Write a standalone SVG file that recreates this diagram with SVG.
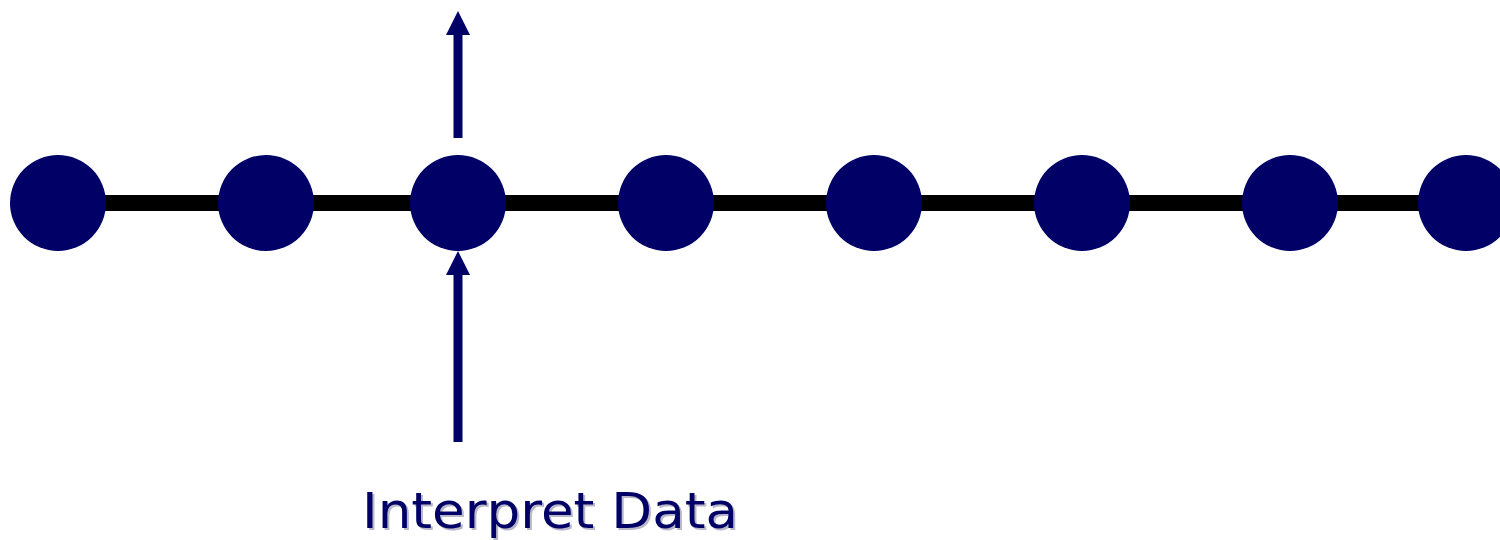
<svg xmlns="http://www.w3.org/2000/svg" width="1500" height="540" viewBox="0 0 1500 540">
<style>
.node{fill:#000066}
.shaft{stroke:#000066;stroke-width:9;fill:none}
.head{fill:#000066}
.lbl{font-family:"DejaVu Sans",Verdana,sans-serif;font-size:50px}
</style>
<rect width="1500" height="540" fill="#ffffff"/>
<g id="connectors">
<line x1="58" y1="203" x2="1466" y2="203" stroke="#000000" stroke-width="16"/>
<line class="shaft" x1="458" y1="442" x2="458" y2="272"/>
<path class="head" d="M458,251 L470,275 L446,275 Z"/>
<line class="shaft" x1="458" y1="138" x2="458" y2="31"/>
<path class="head" d="M458,11 L470,35 L446,35 Z"/>
</g>
<g id="n1"><circle class="node" cx="58" cy="203" r="48"/></g>
<g id="n2"><circle class="node" cx="266" cy="203" r="48"/></g>
<g id="n3"><circle class="node" cx="458" cy="203" r="48"/></g>
<g id="n4"><circle class="node" cx="666" cy="203" r="48"/></g>
<g id="n5"><circle class="node" cx="874" cy="203" r="48"/></g>
<g id="n6"><circle class="node" cx="1082" cy="203" r="48"/></g>
<g id="n7"><circle class="node" cx="1290" cy="203" r="48"/></g>
<g id="n8"><circle class="node" cx="1466" cy="203" r="48"/></g>
<g id="label">
<text class="lbl" x="364" y="530" fill="#b8b8c8" textLength="376" lengthAdjust="spacingAndGlyphs">Interpret Data</text>
<text class="lbl" x="362" y="528" fill="#000066" textLength="376" lengthAdjust="spacingAndGlyphs">Interpret Data</text>
</g>
</svg>
